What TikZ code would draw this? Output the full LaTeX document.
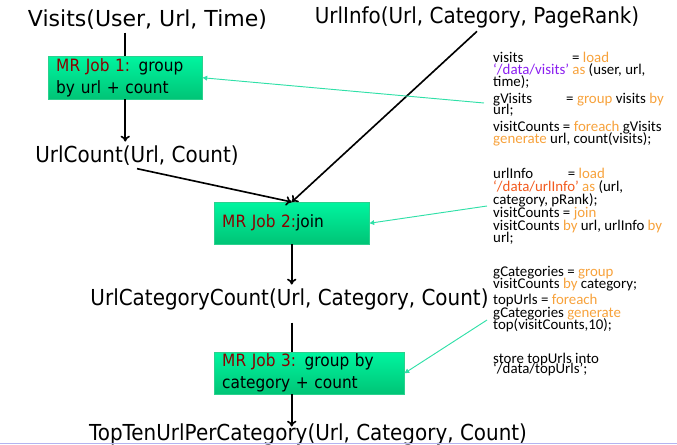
\documentclass[tikz,border=0pt]{standalone}
\usepackage{fontspec}
\setmainfont{DejaVu Sans}
\newfontfamily\relfont[FakeStretch=0.905]{DejaVu Sans}
\newfontfamily\codefont{Carlito}
\usetikzlibrary{arrows.meta}

\definecolor{jobtop}{HTML}{00F5A0}
\definecolor{jobbot}{HTML}{00C476}
\definecolor{jobedge}{HTML}{2BD18E}
\definecolor{jobred}{HTML}{8B0000}
\definecolor{hint}{HTML}{30E0A8}
\definecolor{kw}{HTML}{F7A23C}
\definecolor{strviolet}{HTML}{8A1EF0}
\definecolor{strred}{HTML}{F25A1E}
\definecolor{slideline}{HTML}{B4B4F0}

\newcommand{\kw}[1]{\textcolor{kw}{#1}}
\newcommand{\mr}[1]{\textcolor{jobred}{#1}}

\tikzset{
  relation/.style={anchor=base, inner sep=3pt, font=\relfont\fontsize{18.8}{22}\selectfont},
  jobbox/.style={anchor=north west, draw=jobedge, top color=jobtop, bottom color=jobbot,
    align=left, inner xsep=0.24cm, inner ysep=0pt, font=\relfont\fontsize{14.5}{18.8}\selectfont},
  codeline/.style={anchor=base west, inner sep=0pt, font=\codefont\fontsize{12.7}{10.5}\selectfont},
  flow/.style={line width=1.4pt, -{To[length=5pt,width=8pt]}},
  hintline/.style={hint, line width=0.8pt, -{Triangle[length=4pt,width=4pt]}}
}

\begin{document}
\begin{tikzpicture}[x=0.03cm, y=-0.03cm]
\useasboundingbox (0,0) rectangle (677,444);

% relations
\node[relation, font=\fontsize{18.8}{22}\selectfont] (visits) at (147.5,26) {Visits(User, Url, Time)};
\node[relation] (urlinfo) at (477,23) {UrlInfo(Url, Category, PageRank)};
\node[relation] (urlcount) at (137,162) {UrlCount(Url, Count)};
\node[relation] (ucc) at (289.5,305) {UrlCategoryCount(Url, Category, Count)};
\node[relation] (topten) at (308,440) {TopTenUrlPerCategory(Url, Category, Count)};

% map reduce jobs
\node[jobbox, text width=4.14cm, minimum height=1.29cm] (job1) at (48,56) {\mr{MR Job 1:} group\\by url + count};
\node[jobbox, text width=4.17cm, minimum height=1.26cm] (job2) at (214,202) {\mr{MR Job 2:}join};
\node[jobbox, text width=5.22cm, minimum height=1.26cm] (job3) at (214,352) {\mr{MR Job 3:} group by\\category + count};

\draw[line width=1.4pt] (visits.south -| job1.north) -- (job1.north);
\draw[flow] (job1.south) -- (job1.south |- urlcount.north);
\draw[flow] (urlcount.south) -- (job2.north);
\draw[flow] (urlinfo.south) -- (job2.north);
\draw[flow] (job2.south) -- (job2.south |- ucc.north);
\draw[line width=1.4pt, shorten <=8pt] (ucc.south -| job2.south) -- (job3.north -| job2.south);
\draw[flow, shorten >=-6pt] (job3.south -| job2.south) -- (topten.north -| job2.south);

% pig latin
\node[codeline] (v1) at (493,62) {\makebox[67.4pt][l]{visits}= \kw{load}};
\node[codeline] (v2) at (493,74) {\textcolor{strviolet}{‘/data/visits’} \kw{as} (user, url,};
\node[codeline] (v3) at (493,86) {time);};
\node[codeline] (v4) at (493,103) {\makebox[62.3pt][l]{gVisits}= \kw{group} visits \kw{by}};
\node[codeline] (v5) at (493,114) {url;};
\node[codeline] (v6) at (493,131) {visitCounts = \kw{foreach} gVisits};
\node[codeline] (v7) at (493,143) {\kw{generate} url, count(visits);};

\node[codeline] (u1) at (493,178) {\makebox[63.7pt][l]{urlInfo}= \kw{load}};
\node[codeline] (u2) at (493,191) {\textcolor{strred}{‘/data/urlInfo’} \kw{as} (url,};
\node[codeline] (u3) at (493,204) {category, pRank);};
\node[codeline] (u4) at (493,217) {visitCounts = \kw{join}};
\node[codeline] (u5) at (493,230) {visitCounts \kw{by} url, urlInfo \kw{by}};
\node[codeline] (u6) at (493,242) {url;};

\node[codeline] (t1) at (493,276) {gCategories = \kw{group}};
\node[codeline] (t2) at (493,288) {visitCounts \kw{by} category;};
\node[codeline] (t3) at (493,304) {topUrls = \kw{foreach}};
\node[codeline] (t4) at (493,317) {gCategories \kw{generate}};
\node[codeline] (t5) at (493,329) {top(visitCounts,10);};
\node[codeline] (t6) at (493,363) {store topUrls into};
\node[codeline] (t7) at (493,373) {‘/data/topUrls’;};

\coordinate (h1) at (484,103);
\coordinate (h2) at (487,206);
\coordinate (h3) at (487,320);
\draw[hintline] (h1) -- (job1.east);
\draw[hintline] (h2) -- (job2.east);
\draw[hintline] (h3) -- (job3.east);

\draw[slideline, line width=0.8pt] (0,443) -- (677,443);
\end{tikzpicture}
\end{document}
